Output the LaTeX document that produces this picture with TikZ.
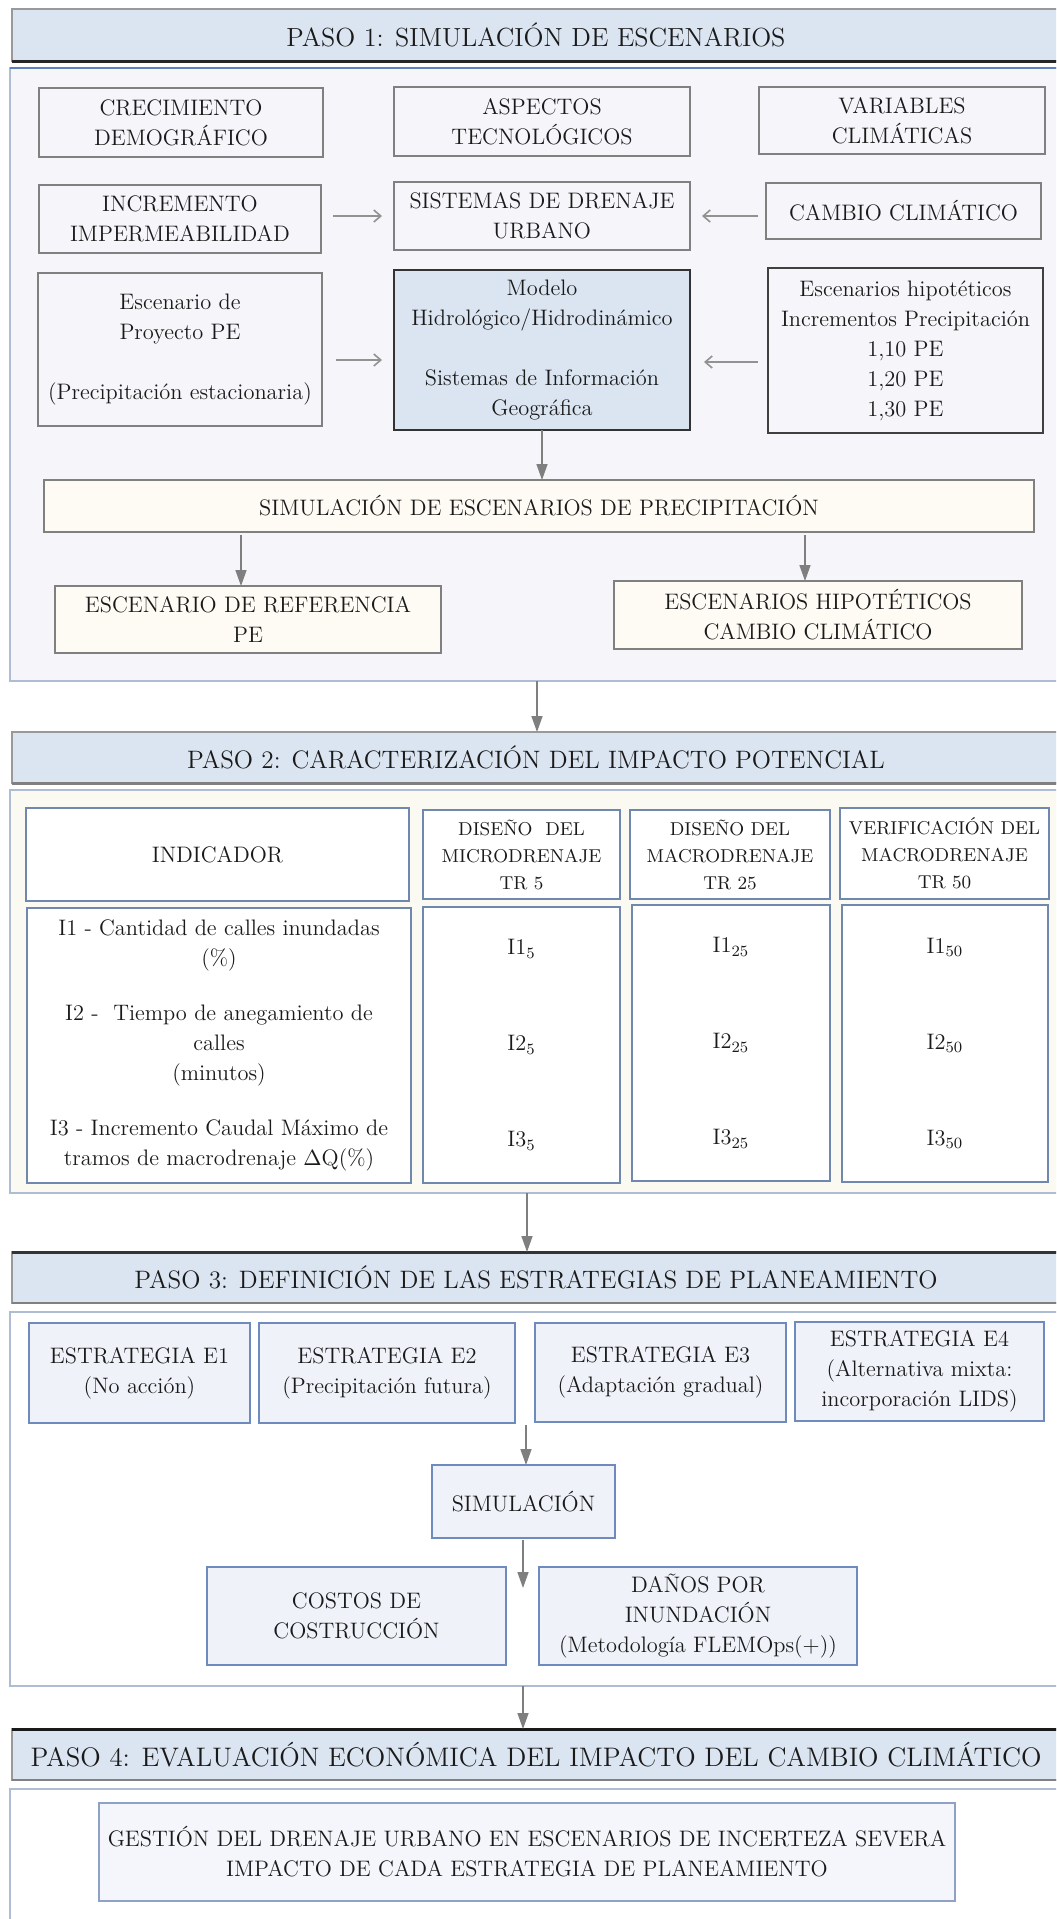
\documentclass[tikz,border=0pt]{standalone}
\usetikzlibrary{arrows.meta}
\definecolor{titlefill}{HTML}{DBE5F1}
\definecolor{p1fill}{HTML}{F6F6FA}
\definecolor{p2fill}{HTML}{FBFAF2}
\definecolor{creamfill}{HTML}{FDFBF3}
\definecolor{panelline}{HTML}{AEBDD3}
\definecolor{blueline}{HTML}{5B84BC}
\definecolor{boxgray}{HTML}{808080}
\definecolor{b2line}{HTML}{7088AE}
\definecolor{b3fill}{HTML}{EFF2F9}
\definecolor{b3line}{HTML}{6F8BBD}
\definecolor{b4fill}{HTML}{F5F6FB}
\definecolor{b4line}{HTML}{8FA2C6}
\definecolor{txtcol}{HTML}{1A1A1A}
\definecolor{arrcol}{HTML}{7F7F7F}
\newcommand\mybox[7]{\node[#6, inner sep=0pt, outer sep=0pt, minimum width={(#4-(#2))*0.5pt}, minimum height={(#5-(#3))*0.5pt}] (#1) at ({(#2+#4)/2},{(#3+#5)/2}) {#7};}
\tikzset{
  bodyfont/.style={font=\fontsize{11.2}{15}\selectfont, align=center, text=txtcol},
  panel/.style={draw=panelline, line width=0.8pt},
  title/.style={fill=titlefill, draw=boxgray!80, line width=0.9pt, font=\fontsize{12.6}{15}\selectfont, text=txtcol},
  bone/.style={bodyfont, fill=p1fill, draw=boxgray, line width=0.8pt},
  bmod/.style={bodyfont, fill=titlefill, draw=black!80, line width=0.8pt},
  bcream/.style={bodyfont, fill=creamfill, draw=boxgray, line width=0.8pt},
  btwo/.style={bodyfont, fill=white, draw=b2line, line width=0.8pt},
  btwohead/.style={btwo, font=\fontsize{9.3}{13.5}\selectfont},
  bthree/.style={bodyfont, fill=b3fill, draw=b3line, line width=0.8pt},
  bfour/.style={bodyfont, fill=b4fill, draw=b4line, line width=0.8pt},
  varr/.style={draw=arrcol, line width=0.8pt, -{Triangle[length=8pt,width=5.5pt]}},
  sarr/.style={draw=arrcol!85, line width=0.8pt, -{Straight Barb[length=3.5pt,width=6pt]}},
}
\begin{document}
\begin{tikzpicture}[x=0.5pt,y=-0.5pt]
\useasboundingbox (0,0) rectangle (1056,1919);
\clip (0,0) rectangle (1056,1919);
\fill[white] (0,0) rectangle (1056,1919);

% ---------- panels ----------
\mybox{p1}{10}{68}{1062}{681}{panel, fill=p1fill}{}
\draw[blueline, line width=0.7pt] (p1.north west) -- (p1.north east);
\mybox{p2}{10}{790}{1062}{1193}{panel, fill=p2fill}{}
\mybox{p3}{10}{1312}{1062}{1686}{panel, fill=white}{}
\mybox{p4}{10}{1789}{1062}{1940}{panel, fill=white}{}

% ---------- titles ----------
\mybox{t1}{12}{9}{1060}{61}{title, font=\fontsize{13.1}{15}\selectfont}{PASO 1: SIMULACIÓN DE ESCENARIOS}
\draw[black!85, line width=1.5pt] (t1.south west) -- (t1.south east);
\mybox{t2}{12}{732}{1060}{783}{title}{PASO 2: CARACTERIZACIÓN DEL IMPACTO POTENCIAL}
\draw[boxgray, line width=1.5pt] (t2.south west) -- (t2.south east);
\mybox{t3}{12}{1252}{1060}{1303}{title}{PASO 3: DEFINICIÓN DE LAS ESTRATEGIAS DE PLANEAMIENTO}
\draw[black!80, line width=1.5pt] (t3.north west) -- (t3.north east);
\draw[boxgray, line width=1.3pt] (t3.south west) -- (t3.south east);
\mybox{t4}{12}{1729}{1060}{1780}{title, font=\fontsize{13.4}{15}\selectfont}{PASO 4: EVALUACIÓN ECONÓMICA DEL IMPACTO DEL CAMBIO CLIMÁTICO}
\draw[black!90, line width=1.5pt] (t4.north west) -- (t4.north east);
\draw[boxgray, line width=1.3pt] (t4.south west) -- (t4.south east);

% ---------- paso 1 ----------
\mybox{crec}{39}{88}{323}{157}{bone}{CRECIMIENTO\\DEMOGRÁFICO}
\mybox{asp}{394}{87}{690}{156}{bone}{ASPECTOS\\TECNOLÓGICOS}
\mybox{var}{759}{87}{1045}{154}{bone}{VARIABLES\\CLIMÁTICAS}
\mybox{inc}{39}{185}{321}{253}{bone}{INCREMENTO\\IMPERMEABILIDAD}
\mybox{sis}{394}{182}{690}{250}{bone}{SISTEMAS DE DRENAJE\\URBANO}
\mybox{cam}{766}{183}{1041}{239}{bone}{CAMBIO CLIMÁTICO}
\mybox{esc}{38}{273}{322}{426}{bone}{Escenario de\\Proyecto PE\\[15pt](Precipitación estacionaria)}
\mybox{mod}{394}{270}{690}{430}{bmod}{Modelo\\Hidrológico/Hidrodinámico\\[15pt]Sistemas de Información\\Geográfica}
\mybox{hip}{768}{268}{1043}{433}{bone, draw=black!75}{Escenarios hipotéticos\\Incrementos Precipitación\\1,10 PE\\1,20 PE\\1,30 PE}
\mybox{sim}{44}{480}{1034}{532}{bcream}{SIMULACIÓN DE ESCENARIOS DE PRECIPITACIÓN}
\mybox{ref}{55}{586}{441}{653}{bcream}{ESCENARIO DE REFERENCIA\\PE}
\mybox{ehip}{614}{581}{1022}{649}{bcream}{ESCENARIOS HIPOTÉTICOS\\CAMBIO CLIMÁTICO}

\draw[sarr, shorten <=6pt, shorten >=6pt] (inc.east |- sis.west) -- (sis.west);
\draw[sarr, shorten <=4pt, shorten >=6pt] (cam.west |- sis.east) -- (sis.east);
\draw[sarr, shorten <=7pt, shorten >=6pt] ([yshift=-5pt]esc.east |- mod.west) -- ([yshift=-5pt]mod.west);
\draw[sarr, shorten <=5pt, shorten >=7pt] ([yshift=-6pt]hip.west |- mod.east) -- ([yshift=-6pt]mod.east);
\draw[varr] (mod.south) -- (mod.south |- sim.north);
\draw[varr, shorten <=1.5pt] (241,0 |- sim.south) -- (241,0 |- ref.north);
\draw[varr, shorten <=1.5pt] (805,0 |- sim.south) -- (805,0 |- ehip.north);
\draw[varr] (537,0 |- p1.south) -- (537,0 |- t2.north);

% ---------- paso 2 ----------
\mybox{ind}{26}{808}{409}{901}{btwo}{INDICADOR}
\mybox{h5}{423}{810}{620}{899}{btwohead}{DISEÑO~~DEL\\MICRODRENAJE\\TR 5}
\mybox{h25}{630}{810}{830}{899}{btwohead}{DISEÑO DEL\\MACRODRENAJE\\TR 25}
\mybox{h50}{840}{808}{1049}{899}{btwohead}{VERIFICACIÓN DEL\\MACRODRENAJE\\TR 50}
\mybox{dl}{27}{908}{411}{1183}{btwo}{I1 - Cantidad de calles inundadas\\(\%)\\[12.5pt]I2 -~ Tiempo de anegamiento de\\calles\\(minutos)\\[12.5pt]I3 - Incremento Caudal Máximo de\\tramos de macrodrenaje $\Delta$Q(\%)}
\mybox{c5}{423}{907}{620}{1183}{btwo}{I1\textsubscript{5}\\[33pt]I2\textsubscript{5}\\[33pt]I3\textsubscript{5}}
\mybox{c25}{632}{905}{830}{1181}{btwo}{I1\textsubscript{25}\\[33pt]I2\textsubscript{25}\\[33pt]I3\textsubscript{25}}
\mybox{c50}{842}{905}{1048}{1182}{btwo}{I1\textsubscript{50}\\[33pt]I2\textsubscript{50}\\[33pt]I3\textsubscript{50}}
\draw[varr] (527,0 |- p2.south) -- (527,0 |- t3.north);

% ---------- paso 3 ----------
\mybox{e1}{29}{1323}{250}{1423}{bthree}{ESTRATEGIA E1\\(No acción)}
\mybox{e2}{259}{1323}{515}{1423}{bthree}{ESTRATEGIA E2\\(Precipitación futura)}
\mybox{e3}{535}{1323}{786}{1422}{bthree}{ESTRATEGIA E3\\(Adaptación gradual)}
\mybox{e4}{795}{1322}{1044}{1421}{bthree}{ESTRATEGIA E4\\(Alternativa mixta:\\incorporación LIDS)}
\mybox{simu}{432}{1465}{615}{1538}{bthree}{SIMULACIÓN}
\mybox{cost}{207}{1567}{506}{1665}{bthree}{COSTOS DE\\COSTRUCCIÓN}
\mybox{dan}{539}{1567}{857}{1665}{bthree}{DAÑOS POR\\INUNDACIÓN\\(Metodología FLEMOps(+))}
\coordinate (cs) at (526,1425);
\coordinate (ce) at (523,1588);
\draw[varr] (cs) -- (cs |- simu.north);
\draw[varr, shorten <=1pt] (523,0 |- simu.south) -- (ce);
\draw[varr] (523,0 |- p3.south) -- (523,0 |- t4.north);

% ---------- paso 4 ----------
\mybox{ges}{99}{1803}{955}{1901}{bfour}{GESTIÓN DEL DRENAJE URBANO EN ESCENARIOS DE INCERTEZA SEVERA\\IMPACTO DE CADA ESTRATEGIA DE PLANEAMIENTO}
\end{tikzpicture}
\end{document}
